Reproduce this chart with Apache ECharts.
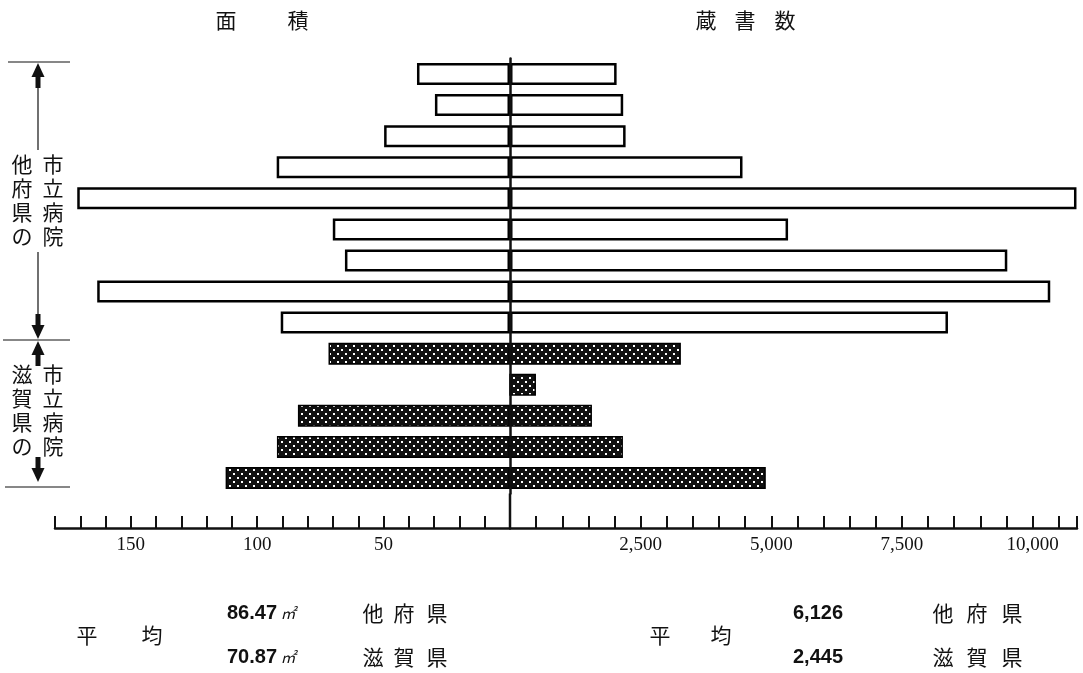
<!DOCTYPE html>
<html><head><meta charset="utf-8">
<script src="https://cdn.jsdelivr.net/npm/echarts@6/dist/echarts.min.js"></script>
<style>html,body{margin:0;padding:0;background:#fff}#c{width:1083px;height:673px}</style>
</head><body><div id="c"></div>
<script>
// ---- data ----
const hospitalsOther = ['他府県1','他府県2','他府県3','他府県4','他府県5','他府県6','他府県7','他府県8','他府県9'];
const hospitalsShiga = ['滋賀県1','滋賀県2','滋賀県3','滋賀県4','滋賀県5'];
const areaOther  = [36.8, 29.7, 49.8, 92.3, 171.2, 70.1, 65.3, 163.3, 90.7];   // 面積 (㎡)
const areaShiga  = [71.8, 0, 83.9, 92.2, 112.5];
const booksOther = [2040, 2166, 2212, 4449, 10840, 5321, 9516, 10338, 8381];  // 蔵書数
const booksShiga = [3270, 497, 1568, 2161, 4895];
const areaTickLabels = [50, 100, 150];
const bookTickLabels = [2500, 5000, 7500, 10000];
const avgArea  = ['86.47', '70.87'];
const avgBooks = ['6,126', '2,445'];
const avgGroups = ['他府県', '滋賀県'];
const sideTitles = ['面積', '蔵書数'];
const groupLabels = [['市立病院', '他府県の'], ['市立病院', '滋賀県の']];

// ---- layout ----
const CX = 510, LEFT = 55, RIGHT_END = 1077, TOP = 58.5, BOT = 493.5, AXIS_Y = 528;
const categories = hospitalsOther.concat(hospitalsShiga);
const nO = hospitalsOther.length, nS = hospitalsShiga.length;
const pad = (arr, before, after) => Array(before).fill(null).concat(arr, Array(after).fill(null));

function dotPattern() {
  const c = document.createElement('canvas'); c.width = 8; c.height = 8;
  const g = c.getContext('2d');
  g.fillStyle = '#111'; g.fillRect(0, 0, 8, 8);
  g.fillStyle = '#fff';
  g.fillRect(1, 1, 2, 2); g.fillRect(5, 5, 2, 2);
  return { image: c, repeat: 'repeat' };
}
const pat = dotPattern();

const CJK = '"Noto Sans CJK JP", sans-serif';
const whiteStyle = { color: '#fff', borderColor: '#000', borderWidth: 2.5 };
const dotStyle = { color: pat, borderColor: '#000', borderWidth: 1.5 };

function charsAt(str, xs, y, size) {
  return Array.from(str).map((ch, i) => ({
    type: 'text', x: xs[i], y: y,
    style: { text: ch, font: size + 'px ' + CJK, fill: '#111', align: 'center', verticalAlign: 'middle' }
  }));
}
function vtext(str, x, yc, size, lh) {
  return {
    type: 'text', x: x, y: yc,
    style: { text: Array.from(str).join('\n'), font: size + 'px ' + CJK, lineHeight: lh, fill: '#111', align: 'center', verticalAlign: 'middle' }
  };
}
function hline(x1, x2, y, w) { return { type: 'line', shape: { x1, y1: y, x2, y2: y }, style: { stroke: '#111', lineWidth: w || 1.2 } }; }
function vline(x, y1, y2, w) { return { type: 'line', shape: { x1: x, y1, x2: x, y2 }, style: { stroke: '#111', lineWidth: w || 1.2 } }; }
function arrow(x, tip, up) {
  const d = up ? 1 : -1;
  return [
    { type: 'polygon', shape: { points: [[x, tip], [x - 6.5, tip + d * 14], [x + 6.5, tip + d * 14]] }, style: { fill: '#111' } },
    { type: 'rect', shape: { x: x - 2.5, y: up ? tip + 13 : tip - 25, width: 5, height: 12 }, style: { fill: '#111' } }
  ];
}

const BX = 38;
const graphics = [].concat(
  // titles
  charsAt(sideTitles[0], [226, 298], 20, 21),
  charsAt(sideTitles[1], [706, 745, 785], 20, 21),
  // bracket
  [hline(8, 70, 62), hline(3, 70, 340), hline(5, 70, 487)],
  arrow(BX, 63, true), [vline(BX, 88, 150)], [vline(BX, 252, 314)], arrow(BX, 339, false),
  [vtext(groupLabels[0][1], 22, 200, 21, 24), vtext(groupLabels[0][0], 53, 200, 21, 24)],
  arrow(BX, 341, true), arrow(BX, 482, false),
  [vtext(groupLabels[1][1], 22, 410, 21, 24), vtext(groupLabels[1][0], 53, 410, 21, 24)],
  // center segment joining the centre line to the axis
  [vline(CX, BOT, AXIS_Y, 2.5)],
  // averages
  charsAt('平均', [87, 152], 635, 21),
  charsAt('平均', [660, 721], 635, 21),
  charsAt(avgGroups[0], [373, 404, 437], 613, 21),
  charsAt(avgGroups[1], [373, 404, 437], 657, 21),
  charsAt(avgGroups[0], [943, 977, 1012], 613, 21),
  charsAt(avgGroups[1], [943, 977, 1012], 657, 21),
  avgArea.map((v, i) => ({
    type: 'text', x: 227, y: [613, 657][i],
    style: {
      text: '{n|' + v + '} {u|㎡}', verticalAlign: 'middle', align: 'left',
      rich: {
        n: { font: 'bold 20px "Liberation Sans", Arial, sans-serif', fill: '#111' },
        u: { font: 'italic 15px ' + CJK, fill: '#111' }
      }
    }
  })),
  avgBooks.map((v, i) => ({
    type: 'text', x: 793, y: [613, 657][i],
    style: { text: v, font: 'bold 20px "Liberation Sans", Arial, sans-serif', fill: '#111', align: 'left', verticalAlign: 'middle' }
  }))
);

const axisLineStyle = { show: true, onZero: false, lineStyle: { color: '#111', width: 2.5 } };
const axisTickStyle = { show: true, inside: true, length: 12, lineStyle: { color: '#111', width: 2 } };
const labelFont = { color: '#111', fontFamily: '"Liberation Serif", serif', fontSize: 19, margin: 8 };

const option = {
  animation: false,
  backgroundColor: '#fff',
  grid: [
    { left: LEFT, top: TOP, width: CX - LEFT, height: BOT - TOP, containLabel: false, outerBoundsMode: 'none' },
    { left: CX, top: TOP, width: RIGHT_END - CX, height: BOT - TOP, containLabel: false, outerBoundsMode: 'none' }
  ],
  xAxis: [
    { gridIndex: 0, type: 'value', inverse: true, min: 0, max: 180, interval: 10, position: 'bottom', offset: AXIS_Y - BOT,
      axisLine: axisLineStyle, axisTick: axisTickStyle, splitLine: { show: false },
      axisLabel: Object.assign({ formatter: v => areaTickLabels.includes(v) ? String(v) : '', showMinLabel: true, showMaxLabel: true }, labelFont) },
    { gridIndex: 1, type: 'value', min: 0, max: 10850, interval: 500, position: 'bottom', offset: AXIS_Y - BOT,
      axisLine: axisLineStyle, axisTick: axisTickStyle, splitLine: { show: false },
      axisLabel: Object.assign({ formatter: v => bookTickLabels.includes(v) ? v.toLocaleString('en-US') : '', showMinLabel: true, showMaxLabel: true }, labelFont) }
  ],
  yAxis: [
    { gridIndex: 0, type: 'category', data: categories, inverse: true, show: false },
    { gridIndex: 1, type: 'category', data: categories, inverse: true, position: 'left', z: 10,
      axisLine: { show: true, onZero: false, lineStyle: { color: '#111', width: 2.5 } },
      axisTick: { show: false }, axisLabel: { show: false }, splitLine: { show: false } }
  ],
  series: [
    { name: '面積（他府県）', type: 'bar', xAxisIndex: 0, yAxisIndex: 0, barWidth: 22, barGap: '-100%',
      data: pad(areaOther, 0, nS), itemStyle: whiteStyle },
    { name: '面積（滋賀県）', type: 'bar', xAxisIndex: 0, yAxisIndex: 0, barWidth: 22, barGap: '-100%',
      data: pad(areaShiga, nO, 0), itemStyle: dotStyle },
    { name: '蔵書数（他府県）', type: 'bar', xAxisIndex: 1, yAxisIndex: 1, barWidth: 22, barGap: '-100%',
      data: pad(booksOther, 0, nS), itemStyle: whiteStyle },
    { name: '蔵書数（滋賀県）', type: 'bar', xAxisIndex: 1, yAxisIndex: 1, barWidth: 22, barGap: '-100%',
      data: pad(booksShiga, nO, 0), itemStyle: dotStyle }
  ],
  graphic: { elements: graphics }
};

const chart = echarts.init(document.getElementById('c'), null, { renderer: 'canvas' });
chart.setOption(option);
</script>
</body></html>
